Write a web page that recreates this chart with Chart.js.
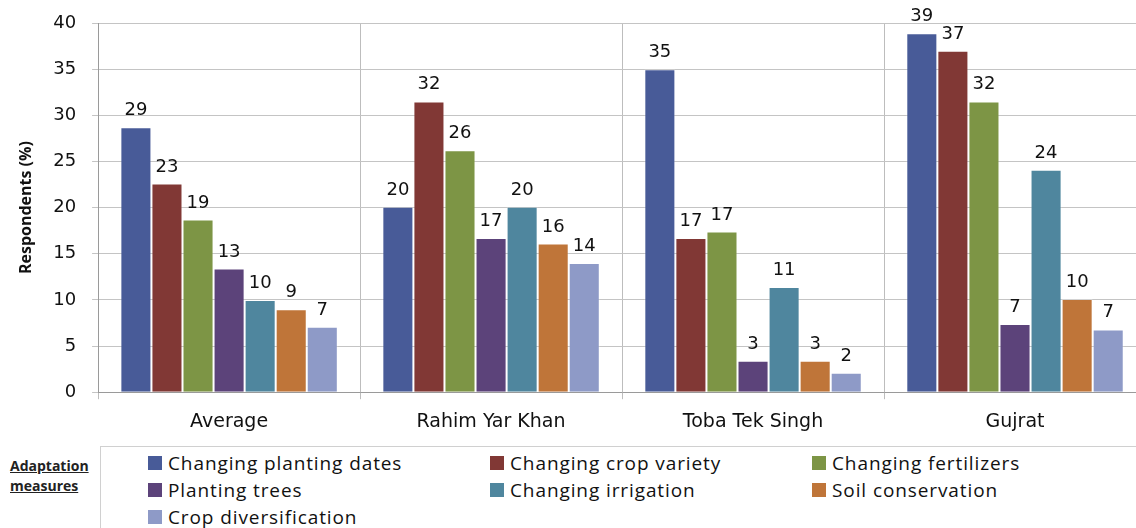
<!DOCTYPE html>
<html>
<head>
<meta charset="utf-8">
<script src="https://cdn.jsdelivr.net/npm/chart.js@4.4.0/dist/chart.umd.min.js"></script>
<style>
  body { margin: 0; background: #fff; font-family: "DejaVu Sans", Verdana, sans-serif; }
  #wrap { position: relative; width: 1136px; height: 528px; overflow: hidden; }
  #chartBox { position: absolute; left: 0; top: 0; width: 1148px; height: 444px; }
  #legendTitle { position: absolute; left: 10px; top: 456px; font: bold 14px "Open Sans", sans-serif; text-decoration: underline; line-height: 20px; color: #222; }
  #legend { position: absolute; left: 100px; top: 446px; width: 1040px; height: 90px; border: 1px solid #d0d0d0; box-sizing: border-box; background: #fff; }
  .item { position: absolute; display: flex; align-items: center; font: 19px "Open Sans", sans-serif; letter-spacing: 0.9px; color: #111; white-space: nowrap; }
  .sw { width: 14px; height: 14px; margin-right: 6px; box-sizing: border-box; }
</style>
</head>
<body>
<div id="wrap">
  <div id="chartBox"><canvas id="c"></canvas></div>
  <div id="legendTitle">Adaptation<br>measures</div>
  <div id="legend"></div>
</div>
<script>
const categories = ['Average', 'Rahim Yar Khan', 'Toba Tek Singh', 'Gujrat'];
const seriesNames = ['Changing planting dates', 'Changing crop variety', 'Changing fertilizers',
  'Planting trees', 'Changing irrigation', 'Soil conservation', 'Crop diversification'];
const colors = ['#485b98', '#813835', '#7d9545', '#5c437a', '#4f869e', '#bf7539', '#8e9ac7'];

// bar heights per measure, in category order
const plantingDates = [28.7, 20.1, 35.0, 38.9];
const cropVariety = [22.6, 31.5, 16.7, 37.0];
const fertilizers = [18.7, 26.2, 17.4, 31.5];
const plantingTrees = [13.4, 16.7, 3.4, 7.4];
const irrigation = [10.0, 20.1, 11.4, 24.1];
const soilConservation = [9.0, 16.1, 3.4, 10.1];
const cropDiversification = [7.1, 14.0, 2.1, 6.8];
const seriesValues = [plantingDates, cropVariety, fertilizers, plantingTrees, irrigation, soilConservation, cropDiversification];

const yTicks = [0, 5, 10, 15, 20, 25, 30, 35, 40];

const valueLabels = {
  id: 'valueLabels',
  afterDatasetsDraw(chart) {
    const ctx = chart.ctx;
    ctx.save();
    ctx.font = '18px "DejaVu Sans", sans-serif';
    ctx.fillStyle = '#111';
    ctx.textAlign = 'center';
    ctx.textBaseline = 'alphabetic';
    chart.data.datasets.forEach((ds, i) => {
      chart.getDatasetMeta(i).data.forEach((bar, j) => {
        ctx.fillText(Math.round(ds.data[j]), bar.x, bar.y - 12);
      });
    });
    ctx.restore();
  }
};

new Chart(document.getElementById('c'), {
  type: 'bar',
  data: {
    labels: categories,
    datasets: seriesNames.map((name, i) => ({
      label: name,
      data: seriesValues[i],
      backgroundColor: colors[i],
      borderColor: 'rgba(255,255,255,0.25)',
      borderWidth: 1,
      categoryPercentage: 0.83,
      barPercentage: 1.0
    }))
  },
  options: {
    responsive: true,
    maintainAspectRatio: false,
    animation: false,
    layout: { padding: { left: 17, right: 2, top: 23, bottom: 0 } },
    plugins: { legend: { display: false }, tooltip: { enabled: false } },
    scales: {
      x: {
        grid: { offset: true, color: '#bdbdbd', lineWidth: 1, tickLength: 7 },
        border: { color: '#9a9a9a' },
        ticks: { color: '#111', font: { family: '"DejaVu Sans", sans-serif', size: 19 }, padding: 11 }
      },
      y: {
        min: 0, max: 40,
        afterBuildTicks: axis => { axis.ticks = yTicks.map(v => ({ value: v })); },
        afterFit: axis => { axis.paddingTop = 0; },
        grid: { color: '#c4c4c4', lineWidth: 1, tickLength: 6 },
        border: { color: '#9a9a9a' },
        ticks: { color: '#111', font: { family: '"DejaVu Sans", sans-serif', size: 18 }, padding: 16 },
        title: { display: true, text: 'Respondents (%)', color: '#111', font: { family: '"Open Sans", sans-serif', size: 16, weight: 'bold' }, padding: { top: 0, bottom: 1 } }
      }
    }
  },
  plugins: [valueLabels]
});

const legend = document.getElementById('legend');
const colX = [47, 389, 711];
const rowY = [3, 30, 57];
seriesNames.forEach((name, i) => {
  const el = document.createElement('div');
  el.className = 'item';
  el.style.left = colX[i % 3] + 'px';
  el.style.top = rowY[Math.floor(i / 3)] + 'px';
  el.innerHTML = '<span class="sw" style="background:' + colors[i] + '"></span>' + name;
  legend.appendChild(el);
});
</script>
</body>
</html>
